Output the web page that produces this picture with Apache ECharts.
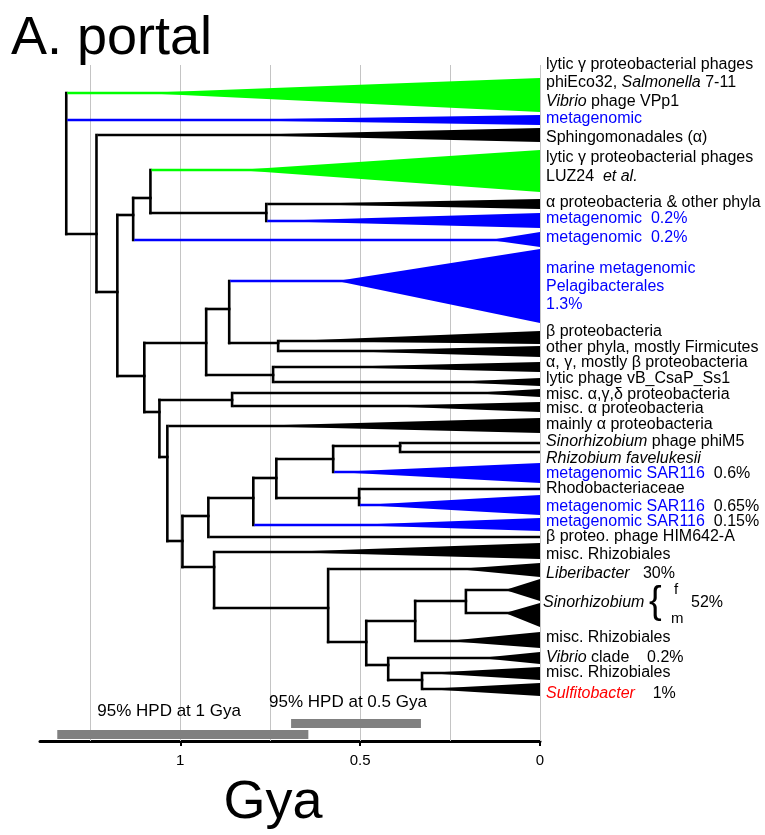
<!DOCTYPE html>
<html><head><meta charset="utf-8">
<script src="https://cdn.jsdelivr.net/npm/echarts@6/dist/echarts.min.js"></script>
<style>html,body{margin:0;padding:0;background:#fff}#c{width:765px;height:835px}</style>
</head><body><div id="c"></div>
<script>
// ---------- DATA ----------
// internal nodes: [id, parent, age (Gya), row]
const nodes = [
 ['R', null, 1.317, 169], ['A','R',1.233,169], ['B','A',1.175,227], ['C','B',1.131,150],
 ['E','C',1.083,133], ['F','E',0.761,148], ['D','B',1.100,311], ['G','D',0.928,278],
 ['I','G',0.864,244], ['K','I',0.728,278], ['J','G',0.742,310], ['H','D',1.058,347],
 ['L','H',0.856,335], ['M','H',1.036,392], ['N','M',0.994,476], ['V','N',0.922,451],
 ['U','V',0.797,433], ['S','U',0.733,413], ['P','S',0.575,394], ['Q','P',0.389,381],
 ['T','S',0.503,433], ['W','N',0.906,502], ['X','W',0.589,543], ['Y','X',0.483,577],
 ['Z','Y',0.347,556], ['FM','Z',0.206,536], ['AA','Y',0.422,600], ['AB','AA',0.328,615]
];
// tips: [parent, row, clade start age (null = single line), clade top row, clade bottom row, group]
const tips = [
 ['R', 28, 1.111, 13, 47, 'phage'],
 ['R', 55, 0.903, 50, 60, 'meta'],
 ['A', 70, 0.842, 63, 77, 'bact'],
 ['E', 105, 0.842, 85, 127, 'phage'],
 ['F', 139, 0.694, 134, 144, 'bact'],
 ['F', 156, 0.750, 148, 163, 'meta'],
 ['C', 175, 0.139, 167, 182, 'meta'],
 ['I', 216, 0.564, 184, 258, 'meta'],
 ['K', 276, 0.694, 266, 279, 'bact'],
 ['K', 286, 0.556, 281, 292, 'bact'],
 ['J', 302, 0.583, 297, 307, 'bact'],
 ['J', 317, 0.250, 313, 321, 'bact'],
 ['L', 328, 0.194, 324, 332, 'bact'],
 ['L', 341, 0.444, 337, 347, 'bact'],
 ['M', 361, 0.814, 353, 368, 'bact'],
 ['Q', 378, null, 0, 0, 'bact'],
 ['Q', 387, null, 0, 0, 'bact'],
 ['P', 407, 0.569, 398, 418, 'meta'],
 ['T', 424, null, 0, 0, 'bact'],
 ['T', 440, 0.494, 430, 450, 'meta'],
 ['U', 460, 0.528, 453, 466, 'meta'],
 ['V', 472, null, 0, 0, 'bact'],
 ['W', 487, 0.714, 478, 494, 'bact'],
 ['X', 504, 0.231, 498, 512, 'bact'],
 ['FM', 525, 0.097, 514, 536, 'bact'],
 ['FM', 548, 0.097, 538, 562, 'bact'],
 ['Z', 576, 0.258, 567, 583, 'bact'],
 ['AA', 593, 0.167, 587, 599, 'bact'],
 ['AB', 608, 0.319, 602, 615, 'bact'],
 ['AB', 624, 0.319, 618, 631, 'bact']
];
const labelRows = [0,18,37,54,73,93,112,138,154,173,204,222,240,267,283,298,314,330,344,360,377,394,409,424,442,457,472,490,509,538,573,593,608,629];
const labelTexts = [
 'lytic γ proteobacterial phages',
 'phiEco32, {i|Salmonella} 7-11',
 '{i|Vibrio} phage VPp1',
 '{b|metagenomic}',
 'Sphingomonadales (α)',
 'lytic γ proteobacterial phages',
 'LUZ24  {i|et al.}',
 'α proteobacteria & other phyla',
 '{b|metagenomic  0.2%}',
 '{b|metagenomic  0.2%}',
 '{b|marine metagenomic}',
 '{b|Pelagibacterales}',
 '{b|1.3%}',
 'β proteobacteria',
 'other phyla, mostly Firmicutes',
 'α, γ, mostly β proteobacteria',
 'lytic phage vB_CsaP_Ss1',
 'misc. α,γ,δ proteobacteria',
 'misc. α proteobacteria',
 'mainly α proteobacteria',
 '{i|Sinorhizobium} phage phiM5',
 '{i|Rhizobium favelukesii}',
 '{b|metagenomic SAR116}  0.6%',
 'Rhodobacteriaceae',
 '{b|metagenomic SAR116}  0.65%',
 '{b|metagenomic SAR116}  0.15%',
 'β proteo. phage HIM642-A',
 'misc. Rhizobiales',
 '{i|Liberibacter}   30%',
 '{i|Sinorhizobium}',
 'misc. Rhizobiales',
 '{i|Vibrio} clade    0.2%',
 'misc. Rhizobiales',
 '{r|Sulfitobacter}    1%'
];
const sinoRow = 538;
const sinoParts = ['{', 'f', 'm', '52%'];
const hpdRanges = [[1.342, 0.644], [0.692, 0.331]];
const hpdRows = [669.5, 658.5];
const hpdLabels = ['95% HPD at 1 Gya', '95% HPD at 0.5 Gya'];
const gridAges = [0, 0.25, 0.5, 0.75, 1, 1.25];
const tickValues = [0, 0.5, 1];
const axisMaxAge = 1.39;
const rowMax = 676;

// ---------- BUILD ----------
const FONT = '"Liberation Sans", Arial, sans-serif';
const COLORS = {bact:'#000000', meta:'#0000ff', phage:'#00ff00'};
const groupIdx = {bact:0, meta:1, phage:2};
const colorList = [COLORS.bact, COLORS.meta, COLORS.phage];

const nodeMap = {};
nodes.forEach(n => nodeMap[n[0]] = {age:n[2], row:n[3], parent:n[1], kids:[]});
nodes.forEach(n => { if (n[1]) nodeMap[n[1]].kids.push(n[3]); });
tips.forEach(t => nodeMap[t[0]].kids.push(t[1]));

const innerSegs = [];
nodes.forEach(n => {
  const m = nodeMap[n[0]];
  innerSegs.push([m.age, Math.min(...m.kids), m.age, Math.max(...m.kids)]);
  if (m.parent) innerSegs.push([nodeMap[m.parent].age, m.row, m.age, m.row]);
});
const tipSegs = tips.map(t => [nodeMap[t[0]].age, t[1], 0, t[1], groupIdx[t[5]]]);
const clades = tips.filter(t => t[2] !== null).map(t => [t[2], t[1], t[3], t[4], groupIdx[t[5]]]);

const RICH = {
  i: {fontStyle:'italic', fontSize:16, fontFamily:FONT, fill:'#000'},
  b: {fontSize:16, fontFamily:FONT, fill:'#0000ff'},
  r: {fontStyle:'italic', fontSize:16, fontFamily:FONT, fill:'#ff0000'}
};

const chart = echarts.init(document.getElementById('c'));
chart.setOption({
  animation: false,
  grid: {left:40, right:225, top:65, bottom:94},
  xAxis: {
    type:'value', inverse:true, min:0, max:axisMaxAge,
    axisLine:{show:true, onZero:false, lineStyle:{color:'#000', width:3}},
    axisTick:{show:true, customValues:tickValues, length:5, lineStyle:{color:'#000', width:2}},
    axisLabel:{show:true, customValues:tickValues, color:'#000', fontSize:15, fontFamily:FONT, margin:12},
    splitLine:{show:false}
  },
  yAxis: {type:'value', inverse:true, min:0, max:rowMax, show:false},
  graphic: [
    {type:'text', x:11, y:39, style:{text:'A. portal', fontSize:54, fontFamily:FONT, fill:'#000', verticalAlign:'middle'}},
    {type:'text', x:273, y:803, style:{text:'Gya', fontSize:54, fontFamily:FONT, fill:'#000', align:'center', verticalAlign:'middle'}}
  ],
  series: [
    { // grid lines
      type:'custom', silent:true, clip:false, z:1,
      data: gridAges.map(a => [a]),
      renderItem: (p, api) => {
        const a = api.coord([api.value(0), 0]);
        const b = api.coord([api.value(0), rowMax]);
        return {type:'line', shape:{x1:Math.round(a[0])+0.5, y1:a[1], x2:Math.round(b[0])+0.5, y2:b[1]}, style:{stroke:'#c4c4c4', lineWidth:1}};
      }
    },
    { // HPD bars
      type:'custom', silent:true, clip:false, z:2,
      data: hpdRanges.map((r, i) => [r[0], r[1], hpdRows[i], i]),
      renderItem: (p, api) => {
        const a = api.coord([api.value(0), api.value(2)]);
        const b = api.coord([api.value(1), api.value(2)]);
        const i = api.value(3);
        const txtX = i === 0 ? a[0] + 40 : a[0] - 22;
        return {type:'group', children:[
          {type:'rect', shape:{x:a[0], y:a[1]-4.5, width:b[0]-a[0], height:9}, style:{fill:'#808080'}},
          {type:'text', x:txtX, y:a[1] - (i === 0 ? 23 : 21), style:{text:hpdLabels[i], fontSize:17, fontFamily:FONT, fill:'#000', verticalAlign:'middle'}}
        ]};
      }
    },
    { // collapsed clades
      type:'custom', silent:true, clip:false, z:3,
      data: clades,
      renderItem: (p, api) => {
        const ap = api.coord([api.value(0), api.value(1)]);
        const t = api.coord([0, api.value(2)]);
        const b = api.coord([0, api.value(3)]);
        return {type:'polygon', shape:{points:[ap, t, b]}, style:{fill:colorList[api.value(4)]}};
      }
    },
    { // internal branches
      type:'custom', silent:true, clip:false, z:4,
      data: innerSegs,
      renderItem: (p, api) => {
        const a = api.coord([api.value(0), api.value(1)]);
        const b = api.coord([api.value(2), api.value(3)]);
        return {type:'line', shape:{x1:a[0], y1:a[1], x2:b[0], y2:b[1]}, style:{stroke:'#000', lineWidth:2.6, lineCap:'square'}};
      }
    },
    { // terminal branches
      type:'custom', silent:true, clip:false, z:5,
      data: tipSegs,
      renderItem: (p, api) => {
        const a = api.coord([api.value(0), api.value(1)]);
        const b = api.coord([api.value(2), api.value(3)]);
        return {type:'line', shape:{x1:a[0]+1, y1:a[1], x2:b[0], y2:b[1]}, style:{stroke:colorList[api.value(4)], lineWidth:2.6}};
      }
    },
    { // tip labels
      type:'custom', silent:true, clip:false, z:6,
      data: labelRows.map((r, i) => [0, r, i]),
      renderItem: (p, api) => {
        const c = api.coord([0, api.value(1)]);
        const i = api.value(2);
        const dx = (api.value(1) === sinoRow) ? 3 : 6;
        return {type:'text', x:c[0]+dx, y:c[1], style:{text:labelTexts[i], fontSize:16, fontFamily:FONT, fill:'#000', verticalAlign:'middle', align:'left', rich:RICH}};
      }
    },
    { // Sinorhizobium brace group
      type:'custom', silent:true, clip:false, z:6,
      data: [[0, sinoRow]],
      renderItem: (p, api) => {
        const c = api.coord([0, api.value(1)]);
        return {type:'group', children:[
          {type:'text', x:c[0]+109, y:c[1]+0, style:{text:sinoParts[0], fontSize:38, fontFamily:FONT, fill:'#000', verticalAlign:'middle'}},
          {type:'text', x:c[0]+134, y:c[1]-13, style:{text:sinoParts[1], fontSize:15, fontFamily:FONT, fill:'#000', verticalAlign:'middle'}},
          {type:'text', x:c[0]+131, y:c[1]+16, style:{text:sinoParts[2], fontSize:15, fontFamily:FONT, fill:'#000', verticalAlign:'middle'}},
          {type:'text', x:c[0]+151, y:c[1], style:{text:sinoParts[3], fontSize:16, fontFamily:FONT, fill:'#000', verticalAlign:'middle'}}
        ]};
      }
    }
  ]
});
</script></body></html>
